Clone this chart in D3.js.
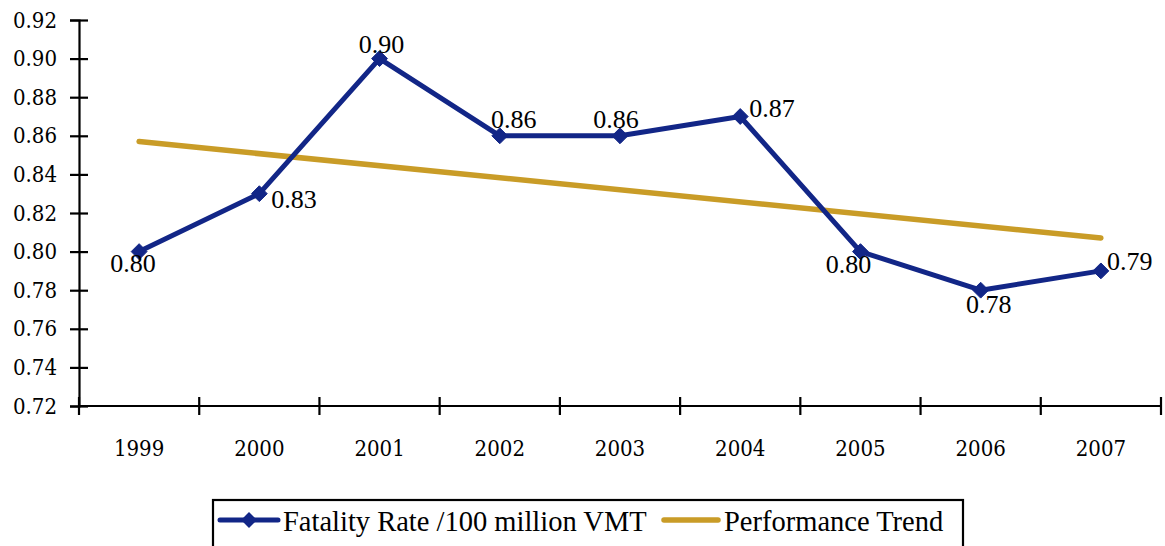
<!DOCTYPE html>
<html>
<head>
<meta charset="utf-8">
<script src="https://cdn.jsdelivr.net/npm/d3@7"></script>
<style>
  html, body { margin: 0; padding: 0; background: #fff; }
  svg { display: block; }
</style>
</head>
<body>
<svg id="chart" width="1165" height="546"></svg>
<script>
// ---- data ----
const years = ["1999", "2000", "2001", "2002", "2003", "2004", "2005", "2006", "2007"];
const fatalityRate = [0.80, 0.83, 0.90, 0.86, 0.86, 0.87, 0.80, 0.78, 0.79];
const trendYears = ["1999", "2007"];
const trendValues = [0.857, 0.807];
const yTicks = [0.72, 0.74, 0.76, 0.78, 0.80, 0.82, 0.84, 0.86, 0.88, 0.90, 0.92];
const seriesNames = ["Fatality Rate /100 million VMT", "Performance Trend"];

// label placement (style, not data)
const labelPlacement = [
  {dx: -6, dy: 20, anchor: "middle"},
  {dx: 12, dy: 14, anchor: "start"},
  {dx: 2, dy: -6, anchor: "middle"},
  {dx: 14, dy: -8, anchor: "middle"},
  {dx: -4, dy: -8, anchor: "middle"},
  {dx: 9, dy: 0, anchor: "start"},
  {dx: -12, dy: 21, anchor: "middle"},
  {dx: 8, dy: 23, anchor: "middle"},
  {dx: 6, dy: -1, anchor: "start"}
];

const BLUE = "#122687";
const GOLD = "#c99c27";
const AXIS_FONT = '"DejaVu Serif Condensed"';
const LABEL_FONT = '"Liberation Serif"';
const svg = d3.select("#chart");

const x = d3.scaleBand().domain(years).range([79, 1161]).paddingInner(0).paddingOuter(0);
const y = d3.scaleLinear().domain([0.72, 0.92]).range([406, 20]);
const cx = d => x(d) + x.bandwidth() / 2;

// y axis
const yAxis = svg.append("g").attr("transform", "translate(79,0)")
  .call(d3.axisLeft(y).tickValues(yTicks).tickFormat(d3.format(".2f")).tickSize(9).tickPadding(13));
yAxis.attr("font-family", null).attr("font-size", null);
yAxis.select(".domain").attr("stroke", "#000").attr("stroke-width", 2.2);
yAxis.selectAll(".tick line").attr("x1", -9).attr("x2", 9).attr("stroke", "#000").attr("stroke-width", 2.2);
yAxis.selectAll(".tick text")
  .style("font-family", AXIS_FONT, "important").style("font-size", "22px", "important").attr("fill", "#000");

// x axis (labels)
const xAxis = svg.append("g").attr("transform", "translate(0,406)")
  .call(d3.axisBottom(x).tickSize(0).tickPadding(34));
xAxis.attr("font-family", null).attr("font-size", null);
xAxis.select(".domain").remove();
xAxis.selectAll(".tick text")
  .style("font-family", AXIS_FONT, "important").style("font-size", "22px", "important").attr("fill", "#000");
// x axis line and boundary ticks
svg.append("line").attr("x1", 79).attr("x2", 1161).attr("y1", 406).attr("y2", 406)
  .attr("stroke", "#000").attr("stroke-width", 2.2);
const bounds = years.map(d => x(d)).concat([x(years[years.length - 1]) + x.bandwidth()]);
svg.append("g").selectAll("line").data(bounds).join("line")
  .attr("x1", d => d).attr("x2", d => d).attr("y1", 397).attr("y2", 415)
  .attr("stroke", "#000").attr("stroke-width", 2.2);

// trend line
svg.append("path")
  .datum(trendYears.map((d, i) => [cx(d), y(trendValues[i])]))
  .attr("d", d3.line())
  .attr("fill", "none").attr("stroke", GOLD).attr("stroke-width", 5.5).attr("stroke-linecap", "round");

// fatality line
svg.append("path")
  .datum(years.map((d, i) => [cx(d), y(fatalityRate[i])]))
  .attr("d", d3.line())
  .attr("fill", "none").attr("stroke", BLUE).attr("stroke-width", 5).attr("stroke-linejoin", "round");

const diamond = d3.symbol().type(d3.symbolDiamond2).size(160);
svg.append("g").selectAll("path").data(years).join("path")
  .attr("d", diamond)
  .attr("transform", (d, i) => `translate(${cx(d)},${y(fatalityRate[i])})`)
  .attr("fill", BLUE).attr("stroke", BLUE).attr("stroke-width", 1);

// data labels
svg.append("g").selectAll("text").data(years).join("text")
  .attr("x", (d, i) => cx(d) + labelPlacement[i].dx)
  .attr("y", (d, i) => y(fatalityRate[i]) + labelPlacement[i].dy)
  .attr("text-anchor", (d, i) => labelPlacement[i].anchor)
  .style("font-family", LABEL_FONT, "important").style("font-size", "26px", "important").attr("fill", "#000")
  .text((d, i) => d3.format(".2f")(fatalityRate[i]));

// legend
const lg = svg.append("g");
lg.append("rect").attr("x", 213).attr("y", 500).attr("width", 750).attr("height", 70)
  .attr("fill", "#fff").attr("stroke", "#000").attr("stroke-width", 2.2);
lg.append("line").attr("x1", 220).attr("x2", 278).attr("y1", 520).attr("y2", 520)
  .attr("stroke", BLUE).attr("stroke-width", 5).attr("stroke-linecap", "round");
lg.append("path").attr("d", diamond).attr("transform", "translate(249,520)").attr("fill", BLUE);
lg.append("text").attr("x", 283).attr("y", 531)
  .style("font-family", LABEL_FONT, "important").style("font-size", "28.5px", "important").attr("fill", "#000")
  .text(seriesNames[0]);
lg.append("line").attr("x1", 664).attr("x2", 718).attr("y1", 520).attr("y2", 520)
  .attr("stroke", GOLD).attr("stroke-width", 5.5).attr("stroke-linecap", "round");
lg.append("text").attr("x", 724).attr("y", 531)
  .style("font-family", LABEL_FONT, "important").style("font-size", "28.5px", "important").attr("fill", "#000")
  .text(seriesNames[1]);
</script>
</body>
</html>
